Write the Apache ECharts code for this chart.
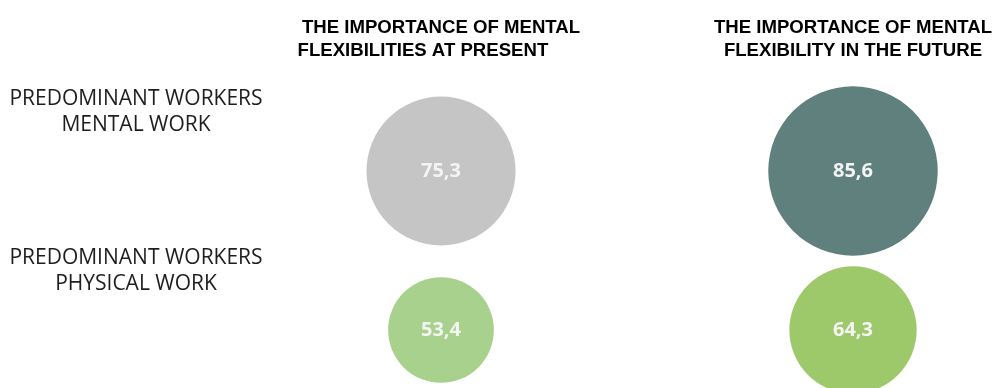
<!DOCTYPE html>
<html>
<head>
<meta charset="utf-8">
<script src="https://cdn.jsdelivr.net/npm/echarts@6/dist/echarts.min.js"></script>
<style>
html,body{margin:0;padding:0;background:#fff;}
#chart{width:1000px;height:388px;}
</style>
</head>
<body>
<div id="chart"></div>
<script>
// Columns (time frames) and rows (worker groups)
var columns = ['THE IMPORTANCE OF MENTAL\nFLEXIBILITIES AT PRESENT\u00a0\u00a0\u00a0\u00a0\u00a0\u00a0\u00a0', 'THE IMPORTANCE OF MENTAL\nFLEXIBILITY IN THE FUTURE'];
var rows = ['PREDOMINANT WORKERS\nMENTAL WORK', 'PREDOMINANT WORKERS\nPHYSICAL WORK'];
// Values per column, in row order
var presentValues = [75.3, 53.4];
var futureValues = [85.6, 64.3];
// Circle colours per column, in row order
var presentColors = ['#c5c5c5', '#a9d18e'];
var futureColors = ['#5f807c', '#9ec96b'];

var seriesValues = [presentValues, futureValues];
var seriesColors = [presentColors, futureColors];
var data = [];
for (var c = 0; c < columns.length; c++) {
  for (var r = 0; r < rows.length; r++) {
    data.push({
      value: [c, r, seriesValues[c][r]],
      itemStyle: { color: seriesColors[c][r], opacity: 1 }
    });
  }
}

var chart = echarts.init(document.getElementById('chart'));
chart.setOption({
  animation: false,
  grid: { left: 441, right: 147, top: 171, bottom: 58, outerBoundsMode: 'none', containLabel: false },
  xAxis: {
    type: 'category',
    position: 'top',
    data: columns,
    boundaryGap: false,
    axisLine: { show: false },
    axisTick: { show: false },
    splitLine: { show: false },
    axisLabel: {
      interval: 0,
      margin: 109,
      fontFamily: 'Liberation Sans, Arial, sans-serif',
      fontWeight: 'bold',
      fontSize: 18.6,
      lineHeight: 23,
      color: '#000',
      align: 'center'
    }
  },
  yAxis: {
    type: 'category',
    data: rows,
    inverse: true,
    boundaryGap: false,
    axisLine: { show: false },
    axisTick: { show: false },
    splitLine: { show: false },
    axisLabel: {
      interval: 0,
      margin: 305,
      align: 'center',
      verticalAlign: 'middle',
      formatter: function (v) {
        return v.split('\n').map(function (s) { return '{t|' + s + '}'; }).join('\n') + '\n{s| }';
      },
      rich: {
        t: {
          fontFamily: 'Open Sans, sans-serif',
          fontSize: 21,
          lineHeight: 26,
          color: '#1e1e1e',
          align: 'center'
        },
        s: { height: 118, lineHeight: 118, fontSize: 10 }
      }
    }
  },
  series: [{
    type: 'scatter',
    clip: false,
    data: data,
    symbol: 'circle',
    symbolSize: function (v) { return v[2] * 1.98; },
    itemStyle: { opacity: 1 },
    label: {
      show: true,
      position: 'inside',
      formatter: function (p) { return String(p.value[2]).replace('.', ','); },
      fontFamily: 'Open Sans, sans-serif',
      fontWeight: 'bold',
      fontSize: 20,
      color: '#f4f4f4'
    },
    emphasis: { disabled: true }
  }]
});
</script>
</body>
</html>
